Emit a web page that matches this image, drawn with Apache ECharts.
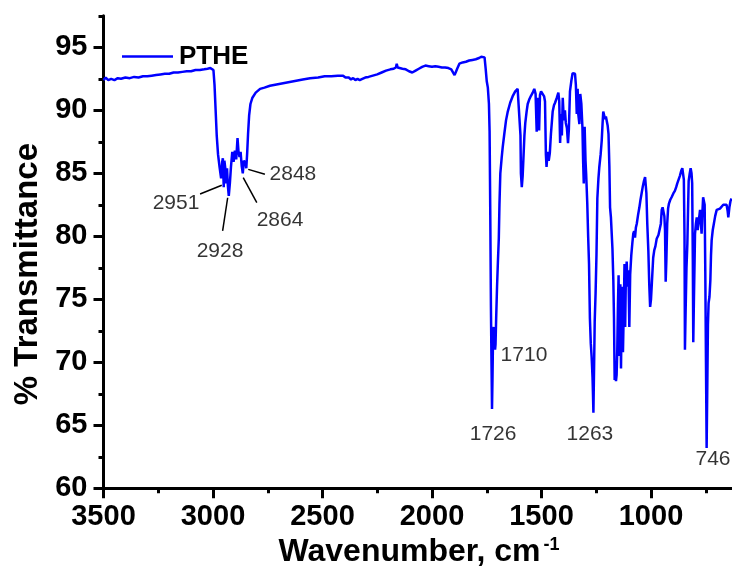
<!DOCTYPE html>
<html>
<head>
<meta charset="utf-8">
<script src="https://cdn.jsdelivr.net/npm/echarts@6/dist/echarts.min.js"></script>
<style>
  html, body { margin: 0; padding: 0; background: #fff; }
  #chart { width: 732px; height: 568px; }
</style>
</head>
<body>
<div id="chart"></div>
<script>
// FTIR spectrum of PTHE, wavenumber (cm-1) vs % transmittance
const wavenumber = [
  3500, 3490, 3478, 3465, 3450, 3435, 3420, 3400, 3380, 3360, 3340, 3320, 3300, 3280, 3260, 3240,
  3220, 3200, 3180, 3160, 3140, 3120, 3100, 3080, 3060, 3040, 3025, 3012, 3004, 2998, 2993, 2988,
  2983, 2977, 2970, 2963, 2958, 2955, 2951, 2948, 2944, 2940, 2936, 2932, 2928, 2923, 2918, 2912,
  2906, 2900, 2894, 2888, 2884, 2879, 2874, 2869, 2864, 2859, 2855, 2851, 2848, 2844, 2840, 2835,
  2829, 2820, 2805, 2785, 2765, 2740, 2710, 2680, 2650, 2620, 2590, 2557, 2520, 2490, 2460, 2430,
  2406, 2395, 2388, 2380, 2370, 2360, 2350, 2340, 2330, 2318, 2305, 2290, 2270, 2250, 2230, 2210,
  2190, 2175, 2165, 2161, 2157, 2148, 2135, 2120, 2105, 2090, 2075, 2060, 2045, 2030, 2015, 2000,
  1985, 1970, 1955, 1940, 1925, 1912, 1903, 1897, 1892, 1885, 1875, 1860, 1845, 1830, 1815, 1800,
  1785, 1775, 1767, 1760, 1755, 1750, 1745, 1740, 1737, 1734, 1731, 1729, 1727, 1726, 1724, 1721,
  1718, 1715, 1712, 1710, 1707, 1703, 1699, 1695, 1692, 1688, 1682, 1677, 1670, 1662, 1654, 1643,
  1632, 1620, 1609, 1600, 1596, 1594, 1590, 1586, 1583, 1578, 1574, 1568, 1563, 1555, 1548, 1540,
  1533, 1527, 1522, 1518, 1515, 1511, 1507, 1502, 1495, 1488, 1484, 1480, 1477, 1472, 1467, 1462,
  1457, 1449, 1443, 1438, 1430, 1423, 1419, 1415, 1411, 1407, 1403, 1398, 1393, 1389, 1384, 1379,
  1375, 1370, 1364, 1358, 1352, 1347, 1343, 1339, 1335, 1332, 1327, 1323, 1318, 1313, 1310, 1307,
  1303, 1299, 1296, 1291, 1287, 1283, 1279, 1275, 1271, 1267, 1265, 1263, 1260, 1257, 1253, 1249,
  1245, 1240, 1236, 1230, 1225, 1221, 1218, 1214, 1210, 1206, 1202, 1198, 1194, 1190, 1187, 1183,
  1180, 1176, 1172, 1169, 1166, 1163, 1160, 1157, 1154, 1151, 1148, 1145, 1142, 1140, 1137, 1134,
  1131, 1128, 1124, 1121, 1118, 1115, 1111, 1107, 1103, 1099, 1095, 1090, 1085, 1081, 1077, 1073,
  1069, 1065, 1059, 1053, 1048, 1043, 1037, 1032, 1027, 1024, 1021, 1017, 1012, 1008, 1004, 1000,
  996, 990, 985, 980, 974, 966, 959, 955, 951, 947, 943, 939, 936, 933, 930, 926,
  922, 918, 912, 906, 898, 891, 885, 880, 874, 868, 862, 857, 853, 850, 847, 845,
  842, 838, 834, 831, 828, 823, 819, 815, 812, 809, 807, 804, 801, 799, 795, 791,
  787, 784, 780, 776, 772, 769, 765, 762, 758, 755, 752, 749, 746, 743, 740, 737,
  733, 729, 726, 723, 718, 713, 707, 700, 693, 685, 678, 670, 663, 655, 650, 647,
  642, 637, 632
];
const transmittance = [
  92.4, 92.6, 92.4, 92.5, 92.4, 92.55, 92.5, 92.6, 92.55, 92.65, 92.6, 92.7, 92.7, 92.75, 92.8, 92.85,
  92.9, 92.9, 93.0, 93.0, 93.05, 93.1, 93.1, 93.2, 93.2, 93.25, 93.3, 93.35, 93.38, 93.2, 92.0, 90.0,
  88.0, 86.5, 85.5, 84.6, 85.9, 86.2, 83.9, 86.0, 85.4, 84.2, 85.4, 84.0, 83.2, 84.2, 85.5, 86.7,
  85.9, 86.8, 86.1, 87.8, 86.8, 86.3, 86.7, 85.6, 85.0, 86.0, 86.1, 85.8, 85.4, 86.6, 88.1, 89.6,
  90.5, 91.0, 91.4, 91.7, 91.8, 91.95, 92.05, 92.15, 92.25, 92.35, 92.45, 92.55, 92.6, 92.7, 92.7, 92.75,
  92.75, 92.6, 92.45, 92.6, 92.45, 92.55, 92.4, 92.5, 92.4, 92.5, 92.6, 92.65, 92.75, 92.85, 93.0, 93.15,
  93.25, 93.3, 93.4, 93.7, 93.4, 93.35, 93.3, 93.25, 93.1, 93.0, 93.15, 93.3, 93.45, 93.55, 93.5, 93.45,
  93.5, 93.45, 93.4, 93.4, 93.35, 93.25, 93.1, 92.8, 93.0, 93.3, 93.7, 93.8, 93.85, 93.95, 94.0, 94.05,
  94.15, 94.25, 94.35, 94.2, 93.3, 92.3, 91.8, 90.5, 88.3, 82.0, 74.5, 71.0, 68.0, 66.3, 68.5, 72.4,
  72.8, 72.0, 71.0, 71.4, 73.5, 76.0, 78.0, 79.8, 82.5, 85.0, 86.2, 87.1, 88.1, 89.2, 89.9, 90.6,
  91.1, 91.5, 91.7, 91.6, 88.0, 85.0, 83.9, 84.8, 86.0, 88.0, 89.0, 89.9, 90.5, 90.9, 91.15, 91.4,
  91.7, 91.3, 88.3, 91.0, 90.8, 88.4, 91.2, 91.5, 91.4, 91.1, 90.7, 86.5, 85.5, 86.7, 86.0, 86.6,
  88.1, 89.9, 90.4, 90.6, 91.0, 91.4, 90.7, 87.4, 89.7, 88.0, 91.0, 89.2, 90.0, 89.0, 88.6, 87.4,
  88.5, 91.5, 92.3, 92.95, 93.05, 92.9, 92.0, 89.7, 91.7, 89.7, 88.9, 91.3, 90.5, 88.6, 86.0, 84.2,
  88.7, 86.0, 84.9, 82.6, 80.0, 77.8, 73.5, 71.5, 70.4, 68.8, 67.5, 66.0, 69.5, 73.3, 75.5, 78.5,
  83.0, 84.6, 85.5, 86.5, 87.6, 89.0, 89.9, 89.6, 89.3, 89.5, 89.4, 88.8, 88.1, 85.5, 82.3, 81.5,
  81.4, 79.0, 76.5, 73.5, 68.6, 69.5, 68.5, 69.0, 71.0, 74.5, 76.9, 70.5, 74.0, 76.2, 69.5, 74.0,
  76.0, 70.8, 74.5, 77.8, 72.8, 76.5, 78.0, 76.0, 77.3, 72.8, 77.0, 78.5, 79.5, 80.2, 80.4, 79.9,
  80.7, 81.0, 81.7, 82.3, 82.9, 83.4, 84.0, 84.4, 84.7, 84.7, 83.4, 81.0, 78.8, 76.2, 74.4, 75.0,
  76.3, 78.3, 78.9, 79.2, 79.8, 80.1, 80.2, 81.0, 82.1, 82.3, 82.3, 81.6, 80.5, 76.4, 78.0, 81.0,
  82.2, 82.6, 82.9, 83.1, 83.4, 83.6, 83.9, 84.2, 84.5, 84.8, 85.2, 85.4, 85.3, 84.5, 80.0, 71.0,
  74.0, 77.5, 79.4, 82.0, 84.4, 85.0, 85.4, 85.0, 84.2, 78.0, 71.6, 75.0, 78.0, 80.2, 81.0, 81.5,
  80.5, 80.5, 81.5, 82.1, 81.0, 80.2, 82.0, 83.1, 83.2, 82.5, 77.0, 70.0, 63.2, 68.0, 73.0, 74.7,
  75.2, 76.5, 78.5, 79.7, 80.5, 81.0, 81.6, 82.1, 82.1, 82.2, 82.3, 82.5, 82.5, 82.5, 82.0, 81.5,
  82.3, 82.8, 83.0
];

// tick positions
const xMajor = [3500, 3000, 2500, 2000, 1500, 1000, 500];
const xMinor = [3250, 2750, 2250, 1750, 1250, 750];
const yMajor = [60, 65, 70, 75, 80, 85, 90, 95];
const yMinor = [62.5, 67.5, 72.5, 77.5, 82.5, 87.5, 92.5, 97.5];

// peak annotations: text, text position, leader line start/end
const peakText = ['2951', '2928', '2864', '2848', '1710', '1726', '1263', '746'];
const peakTextX = [3169, 2968, 2694, 2635, 1580, 1721, 1279, 717];
const peakTextY = [82.64, 78.84, 81.26, 84.9, 70.53, 64.32, 64.32, 62.3];
const leaderFrom = [[3059, 83.36], [2956, 80.43], [2800, 82.67], [2763, 84.92]];
const leaderTo = [[2960, 84.05], [2933, 83.06], [2862, 84.65], [2839, 85.31]];

const FONT = 'Liberation Sans';

const chart = echarts.init(document.getElementById('chart'));

const spectrum = wavenumber.map((w, i) => [w, transmittance[i]]);
const labelData = peakText.map((t, i) => ({ name: t, value: [peakTextX[i], peakTextY[i]] }));
const leaderData = leaderFrom.map((p, i) => ({ coords: [p, leaderTo[i]] }));

const tickLine = { color: '#000', width: 3 };
const plain = v => String(v);

chart.setOption({
  animation: false,
  backgroundColor: '#fff',
  grid: { left: 103.5, top: 15.8, right: -28.5, bottom: 79.7, containLabel: false, outerBoundsMode: 'none' },
  legend: {
    data: ['PTHE'],
    left: 117,
    top: 38.5,
    icon: 'rect',
    itemWidth: 51,
    itemHeight: 2.5,
    textStyle: { fontFamily: FONT, fontWeight: 'bold', fontSize: 26, color: '#000', padding: [0, 0, 0, 1] }
  },
  xAxis: [{
    type: 'value',
    position: 'bottom',
    inverse: true,
    min: 500,
    max: 3500,
    axisLine: { lineStyle: tickLine },
    axisTick: { customValues: xMajor, length: 10, lineStyle: tickLine },
    axisLabel: {
      customValues: xMajor, margin: 14, color: '#000', formatter: plain,
      fontFamily: FONT, fontWeight: 'bold', fontSize: 29
    },
    splitLine: { show: false },
    name: '{a|Wavenumber, cm}{s|-1}',
    nameLocation: 'middle',
    nameGap: 37,
    nameTextStyle: {
      padding: [0, 26, 0, 0],
      rich: {
        a: { fontFamily: FONT, fontWeight: 'bold', fontSize: 32, color: '#000' },
        s: { fontFamily: FONT, fontWeight: 'bold', fontSize: 18, color: '#000', verticalAlign: 'top', padding: [0, 0, 14, 3] }
      }
    }
  }, {
    type: 'value',
    position: 'bottom',
    inverse: true,
    min: 500,
    max: 3500,
    axisLine: { show: false },
    axisTick: { customValues: xMinor, length: 5, lineStyle: tickLine },
    axisLabel: { show: false },
    splitLine: { show: false }
  }],
  yAxis: [{
    type: 'value',
    position: 'left',
    min: 60,
    max: 97.5,
    axisLine: { show: true, lineStyle: tickLine },
    axisTick: { show: true, customValues: yMajor, length: 10, lineStyle: tickLine },
    axisLabel: {
      customValues: yMajor, margin: 16, color: '#000', formatter: plain,
      fontFamily: FONT, fontWeight: 'bold', fontSize: 29
    },
    splitLine: { show: false },
    name: '% Transmittance',
    nameLocation: 'middle',
    nameGap: 58,
    nameTextStyle: { fontFamily: FONT, fontWeight: 'bold', fontSize: 33, color: '#000', padding: [0, 44, 0, 0] }
  }, {
    type: 'value',
    position: 'left',
    min: 60,
    max: 97.5,
    axisLine: { show: false },
    axisTick: { show: true, customValues: yMinor, length: 5, lineStyle: tickLine },
    axisLabel: { show: false },
    splitLine: { show: false }
  }],
  series: [{
    name: 'PTHE',
    type: 'line',
    data: spectrum,
    symbol: 'none',
    showSymbol: false,
    sampling: false,
    lineStyle: { color: '#0000ff', width: 2.5 },
    itemStyle: { color: '#0000ff' }
  }, {
    name: 'leaders',
    type: 'lines',
    coordinateSystem: 'cartesian2d',
    data: leaderData,
    lineStyle: { color: '#000', width: 1.5, opacity: 1 },
    silent: true
  }, {
    name: 'peaks',
    type: 'scatter',
    data: labelData,
    symbolSize: 1,
    itemStyle: { color: 'transparent' },
    silent: true,
    label: {
      show: true,
      position: 'inside',
      formatter: '{b}',
      fontFamily: FONT,
      fontSize: 21,
      color: '#000'
    }
  }]
});
</script>
</body>
</html>
